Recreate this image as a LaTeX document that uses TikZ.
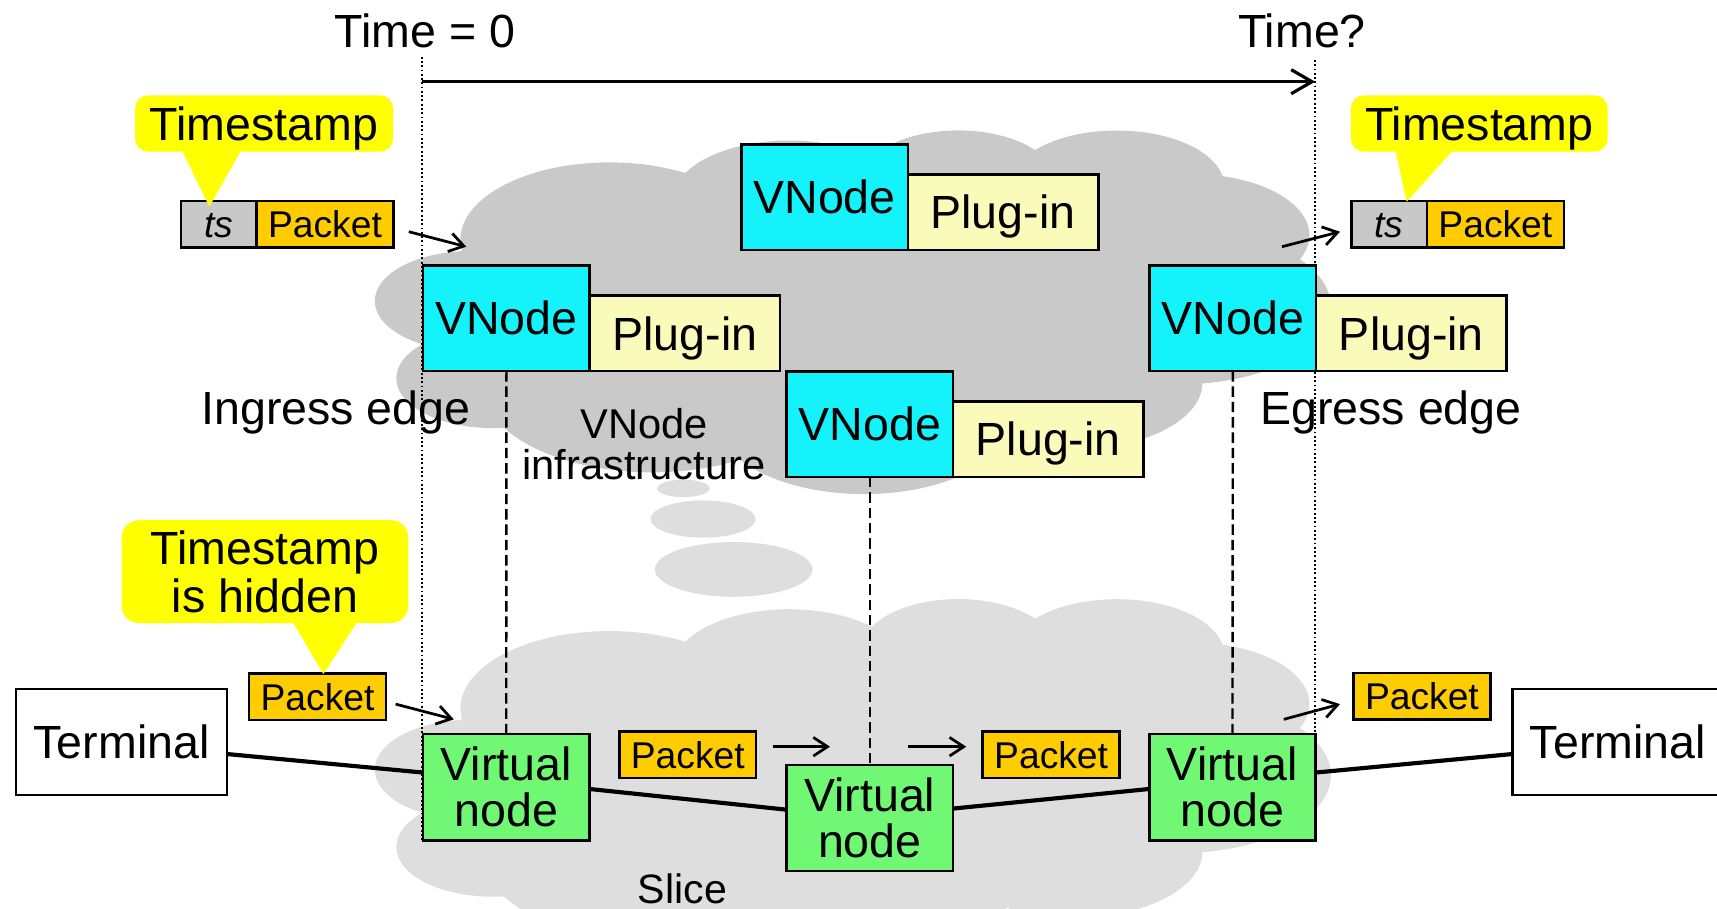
\documentclass[tikz,border=0pt]{standalone}
\usepackage{fontspec}
\setmainfont{Liberation Sans}
\usetikzlibrary{arrows.meta}

\definecolor{cloudtop}{RGB}{201,201,201}
\definecolor{cloudlow}{RGB}{222,222,222}
\definecolor{vnodecyan}{RGB}{20,242,252}
\definecolor{pluginyellow}{RGB}{250,250,186}
\definecolor{virtgreen}{RGB}{112,248,116}
\definecolor{packetorange}{RGB}{255,204,0}
\definecolor{tsgray}{RGB}{200,200,200}
\definecolor{calloutyellow}{RGB}{255,255,0}

% cloud outline in a 432 x 432 box (local y maps downwards), built from eleven elliptic lobes
\newcommand\cloudcontour{%
  (39.00,143.70)
  arc[start angle=172.25,  end angle=300.37,  x radius=67.53, y radius=91.90]
  arc[start angle=-152.02, end angle=-45.43,  x radius=53.33, y radius=72.67]
  arc[start angle=-153.49, end angle=-37.32,  x radius=43.65, y radius=59.45]
  arc[start angle=-139.70, end angle=-10.21,  x radius=48.57, y radius=65.95]
  arc[start angle=-74.77,  end angle=23.21,   x radius=53.33, y radius=72.73]
  arc[start angle=-37.52,  end angle=81.86,   x radius=67.75, y radius=92.20]
  arc[start angle=0.46,    end angle=121.98,  x radius=57.85, y radius=78.67]
  arc[start angle=16.85,   end angle=146.24,  x radius=67.52, y radius=92.15]
  arc[start angle=58.98,   end angle=150.20,  x radius=77.20, y radius=105.43]
  arc[start angle=83.31,   end angle=223.13,  x radius=43.60, y radius=59.18]
  arc[start angle=120.35,  end angle=264.11,  x radius=43.45, y radius=59.45]
  -- cycle}

\tikzset{
  every node/.style={inner sep=0pt, outer sep=0pt},
  bigtext/.style={font=\fontsize{42.5}{42}\selectfont},
  onecap/.style={text height=30.4pt, text depth=0pt},
  boxline/.style={draw=black, line width=2.3pt},
  vnodebox/.style={boxline, fill=vnodecyan, minimum width=152pt, minimum height=96.5pt, bigtext, onecap},
  pluginbox/.style={boxline, fill=pluginyellow, minimum width=174pt, minimum height=69pt, bigtext, onecap, anchor=south west},
  virtbox/.style={boxline, fill=virtgreen, minimum width=152pt, minimum height=97pt, align=center, bigtext},
  termbox/.style={boxline, fill=white, minimum width=193pt, minimum height=96.5pt, bigtext, onecap},
  pktbox/.style={boxline, fill=packetorange, minimum width=125pt, minimum height=42.5pt,
    font=\fontsize{34}{34}\selectfont, text height=24.3pt, text depth=0pt},
  tsbox/.style={boxline, fill=tsgray, minimum width=69pt, minimum height=42.5pt,
    font=\fontsize{34}{34}\selectfont\itshape, text height=24.3pt, text depth=0pt},
  calloutbox/.style={fill=calloutyellow, bigtext},
  pointer/.style={fill=calloutyellow},
  flowarrow/.style={line width=2.5pt, -{Straight Barb[length=13pt, width=17pt, line width=2.5pt]}},
  timearrow/.style={line width=2.9pt, -{Straight Barb[length=19pt, width=22pt, line width=2.9pt]}},
  timeline/.style={line width=1.7pt, dash pattern=on 1.7pt off 2.2pt},
  mapline/.style={line width=2.2pt, dash pattern=on 9.5pt off 4.5pt},
  linkline/.style={line width=3.8pt},
}

\begin{document}
\begin{tikzpicture}[x=1pt, y=-1pt]
\useasboundingbox (0,0) rectangle (1568,830);
\clip (0,0) rectangle (1568,830);

% the two clouds and the bubbles between them
\begin{scope}[shift={(343,118)}, x=1pt, y=1pt, xscale=2.01852, yscale=-0.768519]
  \fill[cloudtop] \cloudcontour;
\end{scope}
\fill[cloudlow] (624,446) ellipse[x radius=24pt, y radius=8pt];
\fill[cloudlow] (642,474) ellipse[x radius=48pt, y radius=17pt];
\fill[cloudlow] (670,520) ellipse[x radius=72pt, y radius=25pt];
\begin{scope}[shift={(343,546)}, x=1pt, y=1pt, xscale=2.01852, yscale=-0.768519]
  \fill[cloudlow] \cloudcontour;
\end{scope}

% time markers
\coordinate (tzero) at (385.7,51.8);
\coordinate (tend) at (1201,54.8);
\coordinate (tzerobottom) at (385.7,767.5);
\coordinate (tendbottom) at (1201,767.5);
\draw[timeline] (tzero) -- (tzerobottom);
\draw[timeline] (tend) -- (tendbottom);
\coordinate (arrowstart) at (385.7,74.6);
\coordinate (arrowend) at (1201,74.6);
\draw[timearrow] (arrowstart) -- (arrowend);
\node[bigtext, anchor=base] (labelzero) at (388,43) {Time = 0};
\node[bigtext, anchor=base] (labelend) at (1189,43) {Time?};

% infrastructure nodes
\node[vnodebox] (vnT) at (753,180) {VNode};
\node[pluginbox] (plT) at (vnT.south east) {Plug-in};
\node[vnodebox] (vnL) at (462.5,290.7) {VNode};
\node[pluginbox] (plL) at (vnL.south east) {Plug-in};
\node[vnodebox] (vnM) at (794.3,387.4) {VNode};
\node[pluginbox] (plM) at (vnM.south east) {Plug-in};
\node[vnodebox] (vnR) at (1125.9,290.7) {VNode};
\node[pluginbox] (plR) at (vnR.south east) {Plug-in};

\node[bigtext, anchor=base west] (ingress) at (184,388) {Ingress edge};
\node[bigtext, anchor=base west] (egress) at (1151,388) {Egress edge};
\node[font=\fontsize{38}{38}\selectfont, align=center] (infra) at (588,405.7) {VNode\\infrastructure};
\node[font=\fontsize{37.5}{37.5}\selectfont, anchor=base west] (slice) at (582.6,824.7) {Slice};

% slice nodes and terminals
\node[virtbox] (vtL) at (462.3,719) {Virtual\\node};
\node[virtbox] (vtM) at (794.3,746.9) {Virtual\\node};
\node[virtbox] (vtR) at (1125.5,719) {Virtual\\node};
\node[termbox] (tmL) at (111,677.6) {Terminal};
\node[termbox] (tmR) at (1477.5,677.6) {Terminal};

% mapping of virtual nodes onto VNodes
\draw[mapline] (vnL.south) -- (vtL.north);
\draw[mapline] (vnM.south) -- (vtM.north);
\draw[mapline] (vnR.south) -- (vtR.north);

% links of the slice
\draw[linkline] ([yshift=-11pt]tmL.east) -- ([yshift=13.5pt]vtL.west);
\draw[linkline] ([yshift=-1.5pt]vtL.east) -- ([yshift=7.5pt]vtM.west);
\draw[linkline] ([yshift=8.5pt]vtM.east) -- ([yshift=-1.5pt]vtR.west);
\draw[linkline] ([yshift=13.5pt]vtR.east) -- ([yshift=-11pt]tmR.west);

% packets
\node[tsbox] (tsA) at (199.9,204.9) {ts};
\node[pktbox] (pkA) at (296.8,204.9) {Packet};
\node[tsbox] (tsB) at (1268.5,204.9) {ts};
\node[pktbox] (pkB) at (1365.6,204.9) {Packet};
\node[pktbox] (pkC) at (290,636.3) {Packet};
\node[pktbox] (pkD) at (628.1,689.2) {Packet};
\node[pktbox] (pkE) at (959.9,689.2) {Packet};
\node[pktbox] (pkF) at (1298.5,635.9) {Packet};

% packet movement
\coordinate (m1s) at (373.3,211.6);
\coordinate (m1e) at (425.8,225.3);
\coordinate (m2s) at (1170.7,225.3);
\coordinate (m2e) at (1223.7,211.6);
\coordinate (m3s) at (361.3,643);
\coordinate (m3e) at (414.4,656.9);
\coordinate (m4s) at (705.5,681.9);
\coordinate (m4e) at (758,681.9);
\coordinate (m5s) at (828.8,681.9);
\coordinate (m5e) at (882.4,681.9);
\coordinate (m6s) at (1172.4,656.9);
\coordinate (m6e) at (1223.7,643);
\draw[flowarrow] (m1s) -- (m1e);
\draw[flowarrow] (m2s) -- (m2e);
\draw[flowarrow] (m3s) -- (m3e);
\draw[flowarrow] (m4s) -- (m4e);
\draw[flowarrow] (m5s) -- (m5e);
\draw[flowarrow] (m6s) -- (m6e);

% callouts
\node[calloutbox, rounded corners=12pt, minimum width=235.7pt, minimum height=51.5pt, onecap] (cbA) at (241.2,112.8) {Timestamp};
\coordinate (tipA) at (191.2,188.7);
\fill[pointer] ([xshift=41pt, yshift=5pt]cbA.south west) -- (tipA) -- ([xshift=99pt, yshift=5pt]cbA.south west) -- cycle;

\node[calloutbox, rounded corners=12pt, minimum width=234.6pt, minimum height=51.5pt, onecap] (cbB) at (1350.9,112.8) {Timestamp};
\coordinate (tipB) at (1284.6,184.2);
\fill[pointer] ([xshift=39.9pt, yshift=5pt]cbB.south west) -- (tipB) -- ([xshift=96.8pt, yshift=5pt]cbB.south west) -- cycle;

\node[calloutbox, rounded corners=16pt, minimum width=262pt, minimum height=94pt, align=center,
  font=\fontsize{42.5}{44}\selectfont] (cbC) at (242,522) {Timestamp\\is hidden};
\coordinate (tipC) at (295.3,615.5);
\fill[pointer] ([xshift=154pt, yshift=5pt]cbC.south west) -- (tipC) -- ([xshift=217.8pt, yshift=5pt]cbC.south west) -- cycle;
\end{tikzpicture}
\end{document}
